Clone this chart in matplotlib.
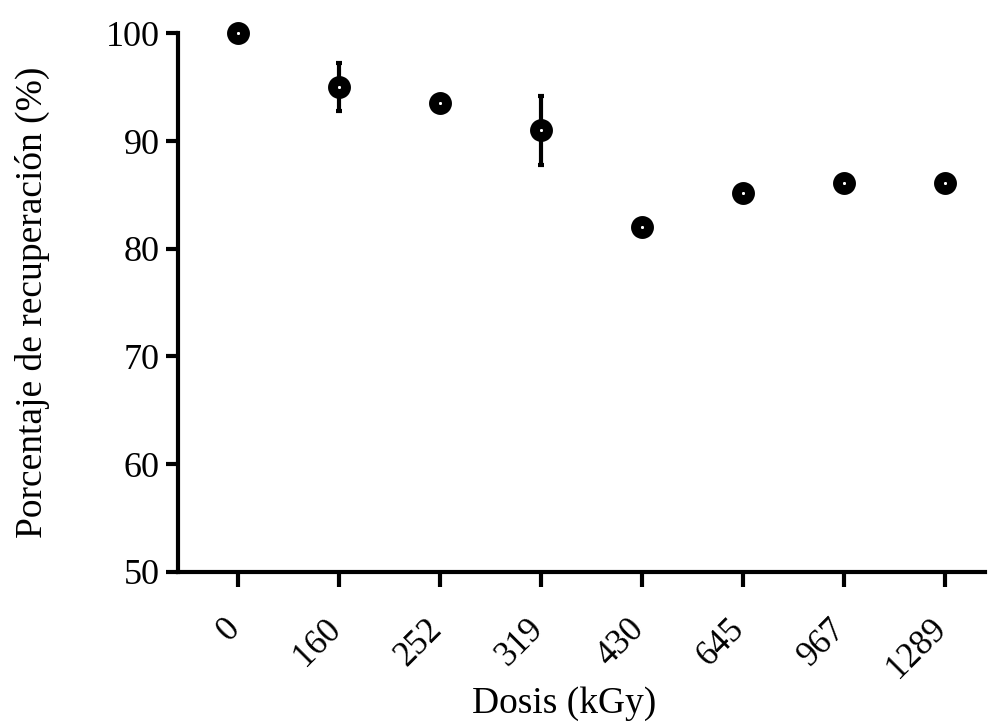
import numpy as np
import matplotlib.pyplot as plt
import matplotlib.transforms as mtransforms

plt.rcParams['font.family'] = ['Liberation Serif', 'DejaVu Serif']

# Data
dosis = ['0', '160', '252', '319', '430', '645', '967', '1289']
recuperacion = [100.0, 95.0, 93.5, 91.0, 82.0, 85.2, 86.1, 86.1]
error = [0.0, 2.2, 0.0, 3.2, 0.0, 0.0, 0.0, 0.0]

fig = plt.figure(figsize=(9.88, 7.24), dpi=100)
ax = fig.add_axes([0.180, 0.210, 0.817, 0.744])

x = np.arange(len(dosis))
ax.errorbar(x, recuperacion, yerr=error, fmt='none', ecolor='black',
            elinewidth=3, capsize=2.5, capthick=3, zorder=2)
ax.plot(x, recuperacion, linestyle='none', marker='o', markersize=9.5,
        markerfacecolor='white', markeredgecolor='black', markeredgewidth=7,
        zorder=3, clip_on=False)

ax.set_xlim(-0.6, 7.4)
ax.set_ylim(50, 100)
ax.set_yticks([50, 60, 70, 80, 90, 100])
ax.set_xticks(x)
ax.set_xticklabels(dosis, rotation=45, ha='right')

for side in ['top', 'right']:
    ax.spines[side].set_visible(False)
for side in ['left', 'bottom']:
    ax.spines[side].set_linewidth(3)

ax.tick_params(axis='y', length=9, width=3, labelsize=26, pad=4)
ax.tick_params(axis='x', length=11, width=3, labelsize=25, pad=18)

# nudge rotated tick labels a bit to the right, like the original
shift = mtransforms.ScaledTranslation(6 / 72, 0, fig.dpi_scale_trans)
for lbl in ax.get_xticklabels():
    lbl.set_transform(lbl.get_transform() + shift)

ax.set_ylabel('Porcentaje de recuperación (%)', fontsize=27, labelpad=40)
ax.set_xlabel('Dosis (kGy)', fontsize=27, labelpad=1)
ax.xaxis.label.set_x(0.479)

fig.savefig('out.png', dpi=100)
